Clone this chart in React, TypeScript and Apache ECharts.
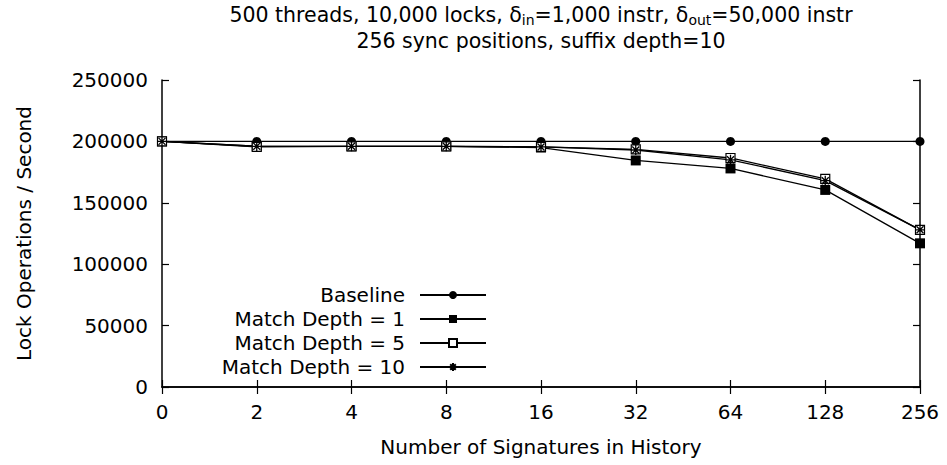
import React, { useEffect, useRef } from "react";
import * as echarts from "echarts";

const xCategories = ["0", "2", "4", "8", "16", "32", "64", "128", "256"];
const baseline = [200000, 200000, 200000, 200000, 200000, 200000, 200000, 200000, 200000];
const matchDepth1 = [200000, 196000, 196000, 196000, 195000, 184500, 178000, 160500, 117000];
const matchDepth5 = [200000, 195500, 196000, 196000, 195500, 193500, 186500, 169500, 128000];
const matchDepth10 = [200000, 196000, 196000, 196000, 195500, 193000, 185000, 168000, 128000];
const yTicks = { min: 0, max: 250000, interval: 50000 };
const titleLine1 = "500 threads, 10,000 locks, δ{sub|in}=1,000 instr, δ{sub|out}=50,000 instr";
const titleLine2 = "256 sync positions, suffix depth=10";

const FONT = "DejaVu Sans";
const asterisk = "path://M0,-5L0,5M-5,0L5,0M-3.5,-3.5L3.5,3.5M-3.5,3.5L3.5,-3.5";

export default function App() {
  const ref = useRef<HTMLDivElement>(null);
  useEffect(() => {
    document.body.style.margin = "0";
    if (!ref.current) return;
    const chart = echarts.init(ref.current, null, { renderer: "svg" });
    const axisLine = { show: true, lineStyle: { color: "#000", width: 1.5 } };
    const tick = { show: true, inside: true, length: 7, lineStyle: { color: "#000", width: 1.2 } };
    const lbl = { color: "#000", fontSize: 20, fontFamily: FONT };
    const lineStyle = { color: "#000", width: 1.3 };
    const titleStyle = {
      color: "#000",
      fontSize: 20.5,
      fontWeight: "normal",
      fontFamily: FONT,
      lineHeight: 22,
    };
    chart.setOption({
      animation: false,
      backgroundColor: "#fff",
      title: [
        {
          text: titleLine1,
          left: 541,
          textAlign: "center",
          top: 4,
          padding: 0,
          textStyle: {
            ...titleStyle,
            rich: {
              sub: { fontSize: 14, fontFamily: FONT, color: "#000", padding: [10, 0, 0, 0] },
            },
          },
        },
        {
          text: titleLine2,
          left: 541,
          textAlign: "center",
          top: 30,
          padding: 0,
          textStyle: titleStyle,
        },
      ],
      grid: { left: 162, right: 27, top: 80, bottom: 78 },
      legend: {
        orient: "vertical",
        align: "right",
        right: 455,
        top: 278,
        itemWidth: 66,
        itemHeight: 10,
        itemGap: 0,
        textStyle: { color: "#000", fontSize: 20, fontFamily: FONT, lineHeight: 24, padding: [0, 10, 0, 0] },
        data: ["Baseline", "Match Depth = 1", "Match Depth = 5", "Match Depth = 10"],
      },
      xAxis: [
        {
          type: "category",
          data: xCategories,
          boundaryGap: false,
          axisLine,
          axisTick: tick,
          axisLabel: { ...lbl, margin: 15 },
          name: "Number of Signatures in History",
          nameLocation: "middle",
          nameGap: 50,
          nameTextStyle: { ...lbl },
        },
        {
          type: "category",
          data: xCategories,
          boundaryGap: false,
          position: "top",
          axisLine,
          axisTick: tick,
          axisLabel: { show: false },
        },
      ],
      yAxis: [
        {
          type: "value",
          ...yTicks,
          axisLine,
          axisTick: tick,
          splitLine: { show: false },
          axisLabel: { ...lbl, margin: 14, formatter: (v: number) => String(v) },
          name: "Lock Operations / Second",
          nameLocation: "middle",
          nameGap: 128,
          nameRotate: 90,
          nameTextStyle: { ...lbl },
        },
        {
          type: "value",
          ...yTicks,
          position: "right",
          axisLine,
          axisTick: tick,
          splitLine: { show: false },
          axisLabel: { show: false },
        },
      ],
      series: [
        {
          name: "Baseline",
          type: "line",
          data: baseline,
          symbol: "circle",
          symbolSize: 9,
          showAllSymbol: true,
          lineStyle,
          itemStyle: { color: "#000" },
        },
        {
          name: "Match Depth = 1",
          type: "line",
          data: matchDepth1,
          symbol: "rect",
          symbolSize: 10,
          showAllSymbol: true,
          lineStyle,
          itemStyle: { color: "#000" },
        },
        {
          name: "Match Depth = 5",
          type: "line",
          data: matchDepth5,
          symbol: "rect",
          symbolSize: 9,
          showAllSymbol: true,
          lineStyle,
          itemStyle: { color: "#fff", borderColor: "#000", borderWidth: 1.2 },
        },
        {
          name: "Match Depth = 10",
          type: "line",
          data: matchDepth10,
          symbol: asterisk,
          symbolSize: 10,
          showAllSymbol: true,
          lineStyle,
          itemStyle: { color: "none", borderColor: "#000", borderWidth: 1.3 },
        },
      ],
    });
    return () => chart.dispose();
  }, []);
  return <div ref={ref} style={{ width: 947, height: 465 }} />;
}
